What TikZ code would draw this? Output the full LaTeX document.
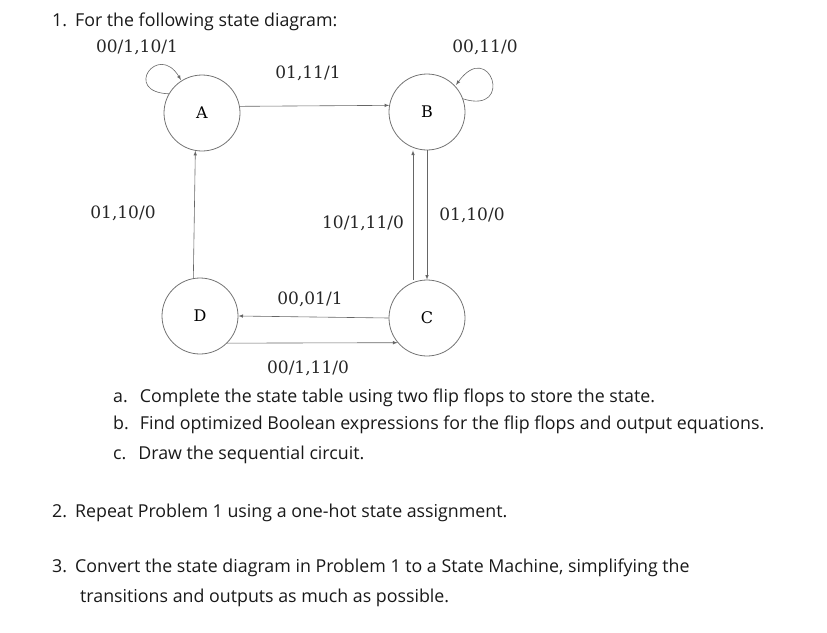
\documentclass[tikz,border=0pt]{standalone}
\usepackage{fontspec}
\setmainfont{Open Sans}
\newfontfamily\lblfont{DejaVu Serif}
\begin{document}
\begin{tikzpicture}[x=1pt,y=-1pt,
  st/.style={circle,draw=black!55,line width=0.8pt,minimum size=76pt,inner sep=0pt,font=\lblfont\fontsize{16}{16}\selectfont},
  lbl/.style={font=\lblfont\fontsize{17}{17}\selectfont,text=black!85},
  txt/.style={font=\fontsize{17.8}{20}\selectfont,anchor=west,inner sep=0pt,text=black!90},
  ar/.style={-latex,draw=black!60,line width=0.6pt}]
\useasboundingbox (0,0) rectangle (827,632);
\node[txt] (t1) at (52,22) {1.\hspace{8pt}For the following state diagram:};
\node[st] (A) at (202,113) {A};
\node[st] (B) at (427,112) {B};
\node[st] (D) at (200,316) {D};
\node[st] (C) at (427,318) {C};
\coordinate (la1) at (181,80);
\coordinate (lb1) at (456,85);
\draw[ar] (A.150) .. controls (122,92) and (158,42) .. (la1);
\draw[ar] (B.20) .. controls (515,115) and (490,38) .. (lb1);
\draw[ar] (A.10) -- (B.170);
\draw[ar] (D.100) -- (A.260);
\draw[ar] ([xshift=-14pt]C.north) -- ([xshift=-14pt]B.south);
\draw[ar] (B.south) -- (C.north);
\draw[ar] (C.west) -- (D.east);
\draw[ar] (D.-45) -- (C.-140);
\node[lbl] (l1) at (137,47) {00/1,10/1};
\node[lbl] (l2) at (485,47) {00,11/0};
\node[lbl] (l3) at (308,73) {01,11/1};
\node[lbl] (l4) at (123,213) {01,10/0};
\node[lbl] (l5) at (363,223) {10/1,11/0};
\node[lbl] (l6) at (472,215) {01,10/0};
\node[lbl] (l7) at (310,299) {00,01/1};
\node[lbl] (l8) at (308,368) {00/1,11/0};
\node[txt] (ta) at (113,398) {a.\hspace{12pt}Complete the state table using two flip flops to store the state.};
\node[txt] (tb) at (113,425) {b.\hspace{11pt}Find optimized Boolean expressions for the flip flops and output equations.};
\node[txt] (tc) at (113,455) {c.\hspace{12pt}Draw the sequential circuit.};
\node[txt] (t2) at (52,513) {2.\hspace{8pt}Repeat Problem 1 using a one-hot state assignment.};
\node[txt] (t3) at (52,568) {3.\hspace{8pt}Convert the state diagram in Problem 1 to a State Machine, simplifying the};
\node[txt] (t3b) at (80,598) {transitions and outputs as much as possible.};
\end{tikzpicture}
\end{document}
